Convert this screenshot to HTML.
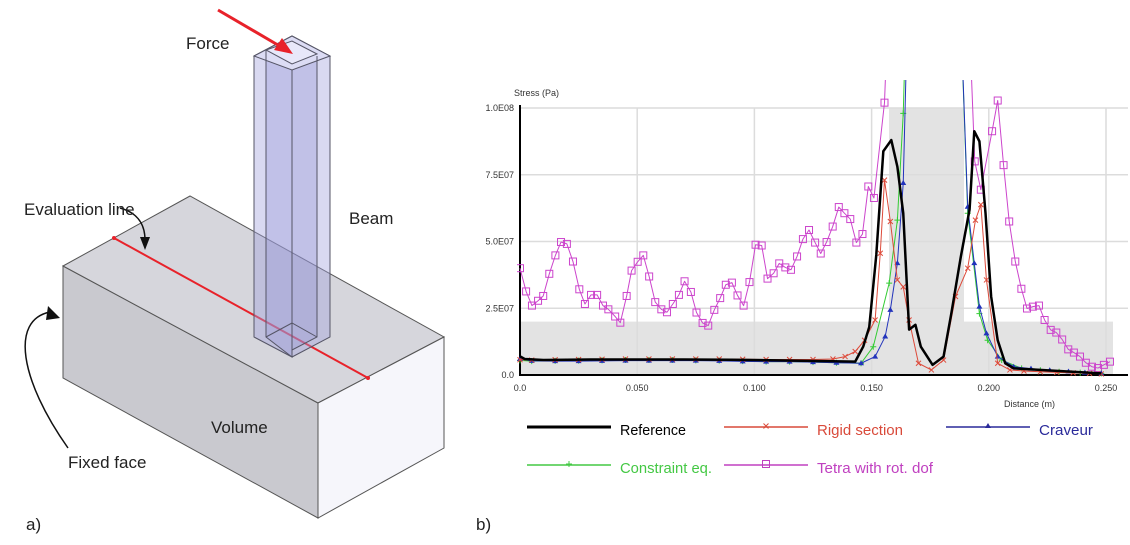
<!DOCTYPE html>
<html><head><meta charset="utf-8"><style>
html,body{margin:0;padding:0;background:#fff;}
svg{display:block;font-family:"Liberation Sans",sans-serif;}
</style></head><body>
<svg id="fig" width="1130" height="545" viewBox="0 0 1130 545">
<g>
  <polygon points="63,266 318,403 318,518 63,378" fill="#c9c9cf" stroke="#555" stroke-width="1"/>
  <polygon points="63,266 190,196 444,337 318,403" fill="#d6d6dc" stroke="#555" stroke-width="1"/>
  <polygon points="318,403 444,337 444,448 318,518" fill="#f6f6fb" stroke="#555" stroke-width="1"/>
  <line x1="114" y1="238" x2="368" y2="378" stroke="#e8222a" stroke-width="2"/>
  <circle cx="114" cy="238" r="2" fill="#e8222a"/>
  <circle cx="368" cy="378" r="2" fill="#e8222a"/>
  <g stroke="#556" stroke-width="1">
    <polygon points="254,56 292,36 330,56 330,337 292,357 254,337" fill="rgba(160,160,220,0.4)"/>
    <polygon points="266,50 292,70 292,357 266,337" fill="rgba(150,150,215,0.35)"/>
    <polygon points="292,70 317,56 317,337 292,350" fill="rgba(140,140,210,0.3)"/>
    <polygon points="254,56 292,36 330,56 292,70" fill="#dcdcf4"/>
    <polygon points="266,50 292,41 317,54 292,64" fill="#e8e8fa"/>
    <line x1="266" y1="50" x2="266" y2="337"/>
    <line x1="317" y1="56" x2="317" y2="337"/>
    <line x1="292" y1="70" x2="292" y2="357"/>
    <polyline points="266,337 292,323 317,337" fill="none"/>
  </g>
  <line x1="218" y1="10" x2="283" y2="48" stroke="#e8222a" stroke-width="3"/>
  <polygon points="293,54 274,50 282,38" fill="#e8222a"/>
  <path d="M120,208 C135,212 145,222 145,240" fill="none" stroke="#111" stroke-width="1.5"/>
  <polygon points="145,250 140,237 150,237" fill="#111"/>
  <path d="M68,448 C20,380 10,320 50,312" fill="none" stroke="#111" stroke-width="1.5"/>
  <polygon points="60,318 48,306 46,320" fill="#111"/>
  <text x="186" y="49" font-size="17" fill="#222">Force</text>
  <text x="24" y="215" font-size="17" fill="#222">Evaluation line</text>
  <text x="349" y="224" font-size="17" fill="#222">Beam</text>
  <text x="211" y="433" font-size="17" fill="#222">Volume</text>
  <text x="68" y="468" font-size="17" fill="#222">Fixed face</text>
  <text x="26" y="530" font-size="17" fill="#222">a)</text>
</g>
<g id="chart"></g>
<text x="476" y="530" font-size="17" fill="#222">b)</text>
</svg>
<script>
const yTicks=[0,25,50,75,100];
const yTickLabels=["0.0","2.5E07","5.0E07","7.5E07","1.0E08"];
const xTicks=[0,0.05,0.1,0.15,0.2,0.25];
const xTickLabels=["0.0","0.050","0.100","0.150","0.200","0.250"];
// values in 1e6 Pa
const tetraX=[0,.0026,.0051,.0077,.0099,.0125,.0151,.0175,.0200,.0226,.0253,.0277,.0303,.0329,.0354,.0377,.0406,.0428,.0455,.0476,.0502,.0526,.0551,.0577,.0603,.0627,.0652,.0678,.0702,.0729,.0753,.0779,.0803,.0829,.0854,.0878,.0904,.0928,.0954,.0979,.1005,.1031,.1056,.1082,.1106,.1132,.1156,.1182,.1207,.1233,.1259,.1283,.1308,.1334,.1360,.1384,.1409,.1435,.1461,.1486,.1510,.1555,.1580,.1905,.1940,.1966,.2014,.2038,.2063,.2087,.2113,.2139,.2163,.2188,.2214,.2238,.2264,.2288,.2313,.2339,.2363,.2389,.2414,.2440,.2466,.2491,.2517];
const tetraY=[40,31.3,26,27.8,29.6,37.9,44.8,49.8,49.1,42.5,32.1,26.6,30,30,26,24.6,21.9,19.6,29.6,39.1,42.4,44.8,36.9,27.3,24.6,23.5,26.6,30,35.1,31.1,23.4,19.5,18.5,24.4,28.8,33.8,34.6,29.8,26,34.8,48.8,48.5,36.1,38.1,41.8,40.3,39.4,44.4,50.9,54.3,49.6,45.5,49.8,55.6,62.9,60.6,58.4,49.6,52.8,70.6,66.3,102,160,160,80,69.4,91.3,102.8,78.6,57.5,42.5,32.3,24.9,25.6,26,20.6,16.9,15.9,13.3,9.6,8.4,6.9,4.6,3.1,2.6,3.8,5];
const refX=[0,.002,.01,.03,.05,.07,.09,.11,.13,.143,.1464,.149,.152,.155,.1584,.161,.1635,.166,.1687,.171,.176,.1807,.184,.188,.1918,.1938,.196,.1986,.201,.2038,.207,.2106,.23,.248];
const refY=[7,6,5.6,5.8,5.8,5.8,5.7,5.5,5.2,5,10.6,18,45,83.8,88,78,60.6,17,18.8,10.6,3.8,6.9,23,44,62,91.3,87.5,60.6,29.4,13,4.4,2.5,1.5,0.6];
const rigidX=[0,.005,.015,.025,.035,.045,.055,.065,.075,.085,.095,.105,.115,.125,.1335,.1387,.143,.147,.1515,.1537,.1555,.158,.161,.1635,.166,.170,.1755,.1807,.1858,.191,.1943,.1966,.199,.2038,.209,.215,.222,.229,.236,.243,.248];
const rigidY=[5.7,5.6,5.7,5.8,5.9,6,6,6,6,6,5.9,5.8,5.8,5.8,6,6.9,8.8,13,20.6,45.6,73,57.5,35.6,33,20.6,4.4,1.9,5.6,29.4,40,58,63.8,35.6,4.4,1.9,1.5,1.2,1,0.8,0.6,0.4];
const cravX=[0,.005,.015,.025,.035,.045,.055,.065,.075,.085,.095,.105,.115,.125,.135,.1455,.1515,.1558,.158,.161,.1635,.1660,.1870,.191,.1938,.196,.199,.2038,.2106,.218,.226,.234,.241,.248];
const cravY=[6,5.3,5.2,5.2,5.3,5.4,5.4,5.4,5.4,5.3,5.1,5,5,4.8,4.6,4.4,6.9,14.4,24.4,41.9,71.9,160,160,63,41.9,25.6,15.6,6.9,3.1,2.4,1.8,1.3,0.9,0.6];
const consX=[0,.005,.015,.025,.035,.045,.055,.065,.075,.085,.095,.105,.115,.125,.135,.1455,.1507,.1575,.161,.1635,.1655,.1870,.191,.196,.1995,.2055,.214,.222,.23,.239,.248];
const consY=[5.5,5.2,5.3,5.4,5.5,5.6,5.6,5.6,5.5,5.4,5.2,5,5,4.8,4.6,4.4,10.6,34.4,58,98,160,160,60.6,23,13,5.6,2.5,1.8,1.2,0.9,0.6];

const X0=520,X1=1106,Y0=375,Y1=108;
const sx=v=>X0+(v/0.25)*(X1-X0);
const sy=v=>Y0-(v/100)*(Y0-Y1);
const NS="http://www.w3.org/2000/svg";
const chart=document.getElementById('chart');
function mk(tag,attrs,parent,txt){const e=document.createElementNS(NS,tag);for(const k in attrs)e.setAttribute(k,attrs[k]);if(txt!==undefined)e.textContent=txt;(parent||chart).appendChild(e);return e;}

const defs=mk('defs',{});
const cp=mk('clipPath',{id:'plotclip'},defs);
mk('rect',{x:517,y:80,width:613,height:300},cp);

let r=mk('rect',{x:X0,y:sy(20),width:1113-X0,height:Y0-sy(20),fill:'#e3e3e3'});


r=mk('rect',{x:889,y:Y1,width:75,height:Y0-Y1,fill:'#e3e3e3'});



yTicks.forEach((t,i)=>{
  if(t>0){const g=mk('line',{x1:X0,x2:1128,y1:sy(t),y2:sy(t),stroke:'#dcdcdc','stroke-width':1.5});
  
  }
  const l=mk('text',{x:514,y:sy(t)+3,'font-size':9,'text-anchor':'end',fill:'#333'},null,yTickLabels[i]);
  
  
});
xTicks.forEach((t,i)=>{
  if(t>0){const g=mk('line',{x1:sx(t),x2:sx(t),y1:Y1,y2:Y0,stroke:'#dcdcdc','stroke-width':1.5});
  
  }
  const l=mk('text',{x:sx(t),y:391,'font-size':9,'text-anchor':'middle',fill:'#333'},null,xTickLabels[i]);
  
  
});
let ax=mk('line',{x1:X0,x2:X0,y1:Y1-3,y2:Y0+1,stroke:'#000','stroke-width':2});


ax=mk('line',{x1:X0-1,x2:1128,y1:Y0,y2:Y0,stroke:'#000','stroke-width':2});


let tt=mk('text',{x:514,y:96,'font-size':9,fill:'#333'},null,'Stress (Pa)');


tt=mk('text',{x:1004,y:407,'font-size':9,fill:'#333'},null,'Distance (m)');



function marker(kind,x,y,col,g){
  if(kind==='x'){mk('path',{d:`M${x-2.5},${y-2.5}L${x+2.5},${y+2.5}M${x-2.5},${y+2.5}L${x+2.5},${y-2.5}`,stroke:col,'stroke-width':1,fill:'none'},g);}
  else if(kind==='tri'){mk('polygon',{points:`${x},${y-3} ${x-3},${y+2} ${x+3},${y+2}`,fill:col},g);}
  else if(kind==='plus'){mk('path',{d:`M${x-3},${y}L${x+3},${y}M${x},${y-3}L${x},${y+3}`,stroke:col,'stroke-width':1,fill:'none'},g);}
  else if(kind==='sq'){mk('rect',{x:x-3.5,y:y-3.5,width:7,height:7,fill:'none',stroke:col,'stroke-width':1},g);}
}
function series(name,xs,ys,col,w,kind){
  const g=mk('g',{'clip-path':'url(#plotclip)'});
  
  
  mk('polyline',{points:xs.map((x,i)=>sx(x)+','+sy(ys[i])).join(' '),fill:'none',stroke:col,'stroke-width':w,'stroke-linejoin':'round'},g);
  if(kind)xs.forEach((x,i)=>marker(kind,sx(x),sy(ys[i]),col,g));
}
series('series-tetra',tetraX,tetraY,'#cc44cc',1,'sq');
series('series-constraint-eq',consX,consY,'#33cc33',1,'plus');
series('series-craveur',cravX,cravY,'#2233bb',1,'tri');
series('series-rigid-section',rigidX,rigidY,'#dd4a3a',1,'x');
series('series-reference',refX,refY,'#000',2.5,null);

const legNames=['Reference','Rigid section','Craveur','Constraint eq.','Tetra with rot. dof'];
const legCols=['#000','#d94a3a','#2a2a9a','#44c844','#c040c0'];
const legKinds=[null,'x','tri','plus','sq'];
const legPos=[[527,427],[724,427],[946,427],[527,465],[724,465]];
const legLens=[66,86,54,92,116];
legNames.forEach((n,i)=>{
  const g=mk('g',{});
  
  
  const [x,y]=legPos[i];
  mk('line',{x1:x,x2:x+84,y1:y,y2:y,stroke:legCols[i],'stroke-width':i===0?3:1.5},g);
  if(legKinds[i])marker(legKinds[i],x+42,y-1,legCols[i],g);
  mk('text',{x:x+93,y:y+8,'font-size':15,fill:legCols[i],textLength:legLens[i],lengthAdjust:'spacingAndGlyphs'},g,n);
});
</script>
</body></html>
